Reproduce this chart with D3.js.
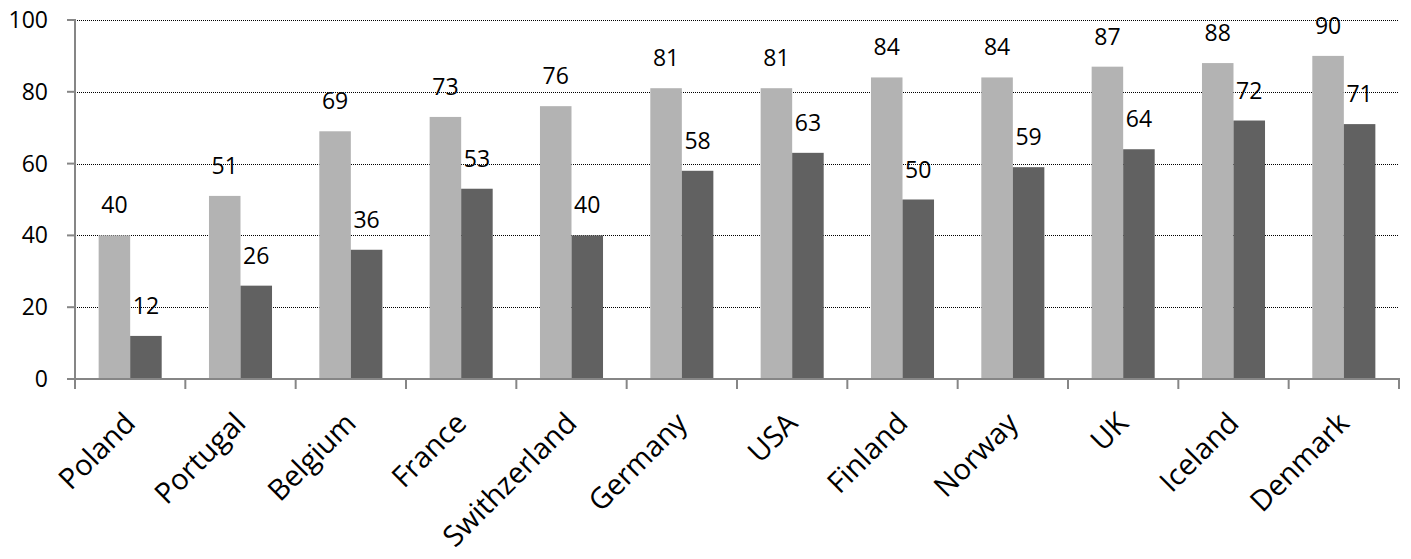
<!DOCTYPE html>
<html>
<head>
<meta charset="utf-8">
<script src="https://cdn.jsdelivr.net/npm/d3@7"></script>
<style>
  html, body { margin: 0; padding: 0; background: #fff; }
  svg { display: block; }
  text { font-family: "Open Sans", sans-serif; fill: #000; }
</style>
</head>
<body>
<svg id="chart" width="1411" height="559"></svg>
<script>
const categories = ["Poland", "Portugal", "Belgium", "France", "Swithzerland", "Germany", "USA", "Finland", "Norway", "UK", "Iceland", "Denmark"];
const seriesA = [40, 51, 69, 73, 76, 81, 81, 84, 84, 87, 88, 90];
const seriesB = [12, 26, 36, 53, 40, 58, 63, 50, 59, 64, 72, 71];
const yTicks = [0, 20, 40, 60, 80, 100];
const seriesNames = ["A", "B"];
const seriesColors = ["#b3b3b3", "#616161"];

const svg = d3.select("#chart");
const plotLeft = 75, plotRight = 1399, plotTop = 20, plotBottom = 379;

const x = d3.scaleBand().domain(categories).range([plotLeft, plotRight]).padding(0);
const xSub = d3.scaleBand().domain(seriesNames).range([0, x.bandwidth()]).paddingInner(0).paddingOuter(0.75);
const y = d3.scaleLinear().domain([0, 100]).range([plotBottom, plotTop]);

// gridlines
svg.append("g").selectAll("line").data(yTicks.filter(d => d > 0)).join("line")
  .attr("x1", plotLeft).attr("x2", plotRight)
  .attr("y1", d => Math.round(y(d)) + 0.5).attr("y2", d => Math.round(y(d)) + 0.5)
  .attr("stroke", "#000").attr("stroke-width", 1).attr("stroke-dasharray", "1,1");

// bars
const data = categories.map((c, i) => ({ c, vals: [seriesA[i], seriesB[i]] }));
const groups = svg.append("g").selectAll("g").data(data).join("g")
  .attr("transform", d => `translate(${x(d.c)},0)`);
groups.selectAll("rect").data(d => d.vals.map((v, j) => ({ v, s: seriesNames[j], j }))).join("rect")
  .attr("x", d => xSub(d.s)).attr("width", xSub.bandwidth())
  .attr("y", d => y(d.v)).attr("height", d => y(0) - y(d.v))
  .attr("fill", d => seriesColors[d.j]);
groups.selectAll("text").data(d => d.vals.map((v, j) => ({ v, s: seriesNames[j], j }))).join("text")
  .attr("x", d => xSub(d.s) + xSub.bandwidth() / 2)
  .attr("y", d => y(d.v) - 22)
  .attr("text-anchor", "middle")
  .attr("font-size", 23)
  .text(d => d.v);

// axes
const axisColor = "#868686";
const ax = svg.append("g");
ax.append("line").attr("x1", plotLeft).attr("x2", plotLeft).attr("y1", plotTop - 1).attr("y2", plotBottom + 10)
  .attr("stroke", axisColor).attr("stroke-width", 2);
ax.append("line").attr("x1", plotLeft - 1).attr("x2", plotRight + 1).attr("y1", plotBottom).attr("y2", plotBottom)
  .attr("stroke", axisColor).attr("stroke-width", 2);
ax.selectAll(".yt").data(yTicks).join("line").attr("class", "yt")
  .attr("x1", plotLeft - 8).attr("x2", plotLeft)
  .attr("y1", d => y(d)).attr("y2", d => y(d))
  .attr("stroke", axisColor).attr("stroke-width", 2);
const bounds = categories.map(c => x(c)).concat([plotRight]);
ax.selectAll(".xt").data(bounds).join("line").attr("class", "xt")
  .attr("x1", d => d).attr("x2", d => d)
  .attr("y1", plotBottom).attr("y2", plotBottom + 10)
  .attr("stroke", axisColor).attr("stroke-width", 2);

// y tick labels
svg.append("g").selectAll("text").data(yTicks).join("text")
  .attr("x", 48).attr("y", d => y(d) + 8)
  .attr("text-anchor", "end").attr("font-size", 23)
  .text(d => d);

// x labels
svg.append("g").selectAll("text").data(categories).join("text")
  .attr("transform", c => `translate(${x(c) + x.bandwidth() / 2 + 7},425) rotate(-45)`)
  .attr("text-anchor", "end").attr("font-size", 29)
  .text(c => c);
</script>
</body>
</html>
